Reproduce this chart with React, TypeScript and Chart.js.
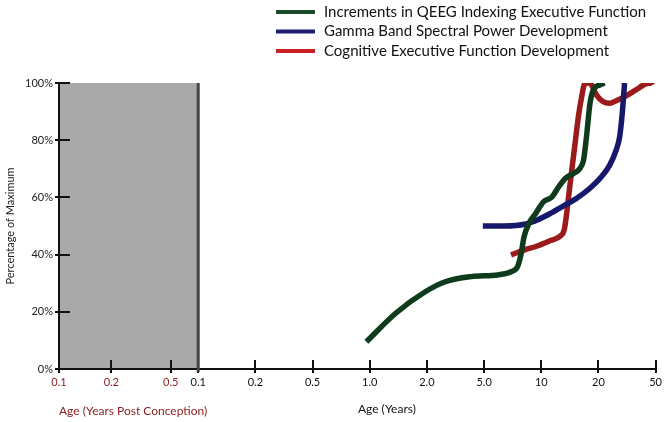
import React, { useEffect, useRef } from 'react';
import { Chart, registerables } from 'chart.js';

Chart.register(...registerables);

// Axis tick labels
const PRENATAL_LABELS = ['0.1', '0.2', '0.5'];
const POSTNATAL_AGES = [0.1, 0.2, 0.5, 1, 2, 5, 10, 20, 50];
const POSTNATAL_LABELS = ['0.1', '0.2', '0.5', '1.0', '2.0', '5.0', '10', '20', '50'];
const Y_MAX = 100;
const Y_STEP = 20;

// Series
const SERIES_NAMES = [
  'Increments in QEEG Indexing Executive Function',
  'Gamma Band Spectral Power Development',
  'Cognitive Executive Function Development',
];

// Age in years, value in % of maximum
const QEEG_AGES = [0.96, 1.37, 1.96, 2.68, 4.08, 5.9, 6.93, 7.5, 7.81, 8.12, 8.62, 9.34, 10.3, 11.4, 12.35, 13.4, 14.8, 16.0, 16.7, 17.3, 18.05, 18.8, 20.4, 22.1];
const QEEG_VALUES = [9.5, 19.5, 27.0, 30.5, 32.3, 32.9, 34.0, 35.8, 39.9, 46.3, 50.9, 54.4, 58.5, 60.2, 63.7, 66.7, 68.4, 70.2, 73.1, 81.2, 92.9, 97.6, 99.3, 100];

const GAMMA_AGES = [4.9, 6.39, 8.29, 9.53, 11.18, 13.1, 15.37, 18.04, 20.98, 23.96, 26.6, 28.1, 29.3, 29.9, 30.4];
const GAMMA_VALUES = [50.0, 50.0, 50.7, 52.1, 54.4, 57.0, 59.7, 63.2, 67.2, 71.3, 76.6, 81.2, 89.4, 95.2, 100];

const COGNITIVE_AGES = [6.93, 8.12, 9.53, 11.18, 12.6, 13.2, 13.54, 13.92, 14.48, 15.07, 15.68, 16.32, 17.0, 17.68, 18.4, 19.53, 21.54, 23.96, 26.6, 31.2, 36.5, 42.7, 47.5, 48.2];
const COGNITIVE_VALUES = [39.9, 41.6, 43.0, 44.9, 46.5, 48.6, 53.3, 60.2, 69.6, 78.9, 88.2, 95.2, 99.9, 100, 99.3, 95.8, 93.5, 92.9, 93.8, 95.5, 97.6, 99.7, 100, 99.5];

// Styling
const LINE_COLORS = ['#0f3b1d', '#16186b', '#9b1a1a'];
const LEGEND_COLORS = ['#1a4a2a', '#1b1c70', '#c81f1f'];
const PRENATAL_COLOR = '#8b1a1a';
const FONT = 'Lato';
// axis positions of the prenatal ticks (birth is at 0, postnatal ticks at 0..8)
const PRENATAL_POS = [-2.435, -1.52, -0.48];

function ageToPos(age: number): number {
  const a = POSTNATAL_AGES;
  for (let i = 0; i < a.length - 1; i++) {
    if (age <= a[i + 1] || i === a.length - 2) {
      return i + Math.log(age / a[i]) / Math.log(a[i + 1] / a[i]);
    }
  }
  return 0;
}

function toPoints(ages: number[], values: number[]) {
  return ages.map((a, i) => ({ x: ageToPos(a), y: values[i] }));
}

const TICK_POS = [...PRENATAL_POS, ...POSTNATAL_AGES.map((_, i) => i)];
const TICK_LABELS = [...PRENATAL_LABELS, ...POSTNATAL_LABELS];

const decor = {
  id: 'decor',
  beforeDatasetsDraw(chart: any) {
    const { ctx, chartArea: a, scales } = chart;
    const x = scales.x;
    const y = scales.y;
    const xb = x.getPixelForValue(0);
    ctx.save();
    ctx.fillStyle = '#a9a9a9';
    ctx.fillRect(a.left, a.top, xb - a.left, a.bottom - a.top);
    ctx.strokeStyle = '#111';
    ctx.lineWidth = 2;
    ctx.beginPath();
    for (const v of TICK_POS) {
      const px = Math.round(x.getPixelForValue(v));
      ctx.moveTo(px, a.bottom - 9);
      ctx.lineTo(px, a.bottom + 4);
    }
    for (let v = 0; v <= Y_MAX; v += Y_STEP) {
      const py = Math.round(y.getPixelForValue(v));
      ctx.moveTo(a.left - 4, py);
      ctx.lineTo(a.left + 11, py);
    }
    ctx.stroke();
    ctx.beginPath();
    ctx.moveTo(a.left, a.top);
    ctx.lineTo(a.left, a.bottom);
    ctx.lineTo(a.right, a.bottom);
    ctx.stroke();
    ctx.strokeStyle = '#454545';
    ctx.lineWidth = 3;
    ctx.beginPath();
    ctx.moveTo(xb, a.top);
    ctx.lineTo(xb, a.bottom + 3);
    ctx.stroke();
    ctx.restore();
  },
  afterDraw(chart: any) {
    const { ctx, chartArea: a, scales } = chart;
    const x = scales.x;
    ctx.save();
    // legend
    const rows = [12, 31.5, 51];
    chart.data.datasets.forEach((ds: any, i: number) => {
      ctx.strokeStyle = LEGEND_COLORS[i];
      ctx.lineWidth = 4;
      ctx.beginPath();
      ctx.moveTo(276, rows[i]);
      ctx.lineTo(315, rows[i]);
      ctx.stroke();
      ctx.fillStyle = '#111';
      ctx.font = `15px ${FONT}`;
      ctx.textBaseline = 'middle';
      ctx.textAlign = 'left';
      ctx.fillText(ds.label, 324, rows[i]);
    });
    // x axis titles
    ctx.font = `12px ${FONT}`;
    ctx.textBaseline = 'middle';
    ctx.fillStyle = PRENATAL_COLOR;
    ctx.textAlign = 'left';
    ctx.fillText('Age (Years Post Conception)', a.left, 411);
    ctx.fillStyle = '#111';
    ctx.textAlign = 'center';
    ctx.fillText('Age (Years)', x.getPixelForValue(3.3), 409);
    ctx.restore();
  },
};

export default function App() {
  const ref = useRef<HTMLCanvasElement>(null);
  useEffect(() => {
    document.body.style.margin = '0';
    const series = [
      toPoints(QEEG_AGES, QEEG_VALUES),
      toPoints(GAMMA_AGES, GAMMA_VALUES),
      toPoints(COGNITIVE_AGES, COGNITIVE_VALUES),
    ];
    const chart = new Chart(ref.current!, {
      type: 'line',
      data: {
        datasets: SERIES_NAMES.map((name, i) => ({
          label: name,
          data: series[i],
          borderColor: LINE_COLORS[i],
          backgroundColor: LINE_COLORS[i],
          borderWidth: 5.5,
          pointRadius: 0,
          cubicInterpolationMode: 'monotone' as const,
          borderCapStyle: 'butt' as const,
          fill: false,
        })),
      },
      options: {
        responsive: false,
        animation: false,
        layout: { padding: { top: 83, right: 6, left: 0, bottom: 0 } },
        plugins: {
          legend: { display: false },
          tooltip: { enabled: false },
        },
        scales: {
          x: {
            type: 'linear',
            min: PRENATAL_POS[0],
            max: POSTNATAL_AGES.length - 1,
            grid: { display: false, drawTicks: false },
            border: { display: false },
            afterBuildTicks: (s: any) => {
              s.ticks = TICK_POS.map((v) => ({ value: v }));
            },
            afterFit: (s: any) => {
              s.height = 53;
            },
            ticks: {
              autoSkip: false,
              maxRotation: 0,
              padding: 7,
              font: { family: FONT, size: 11 },
              color: (c: any) => (c.index < PRENATAL_LABELS.length ? PRENATAL_COLOR : '#111'),
              callback: (_v: any, i: number) => TICK_LABELS[i],
            },
          },
          y: {
            min: 0,
            max: Y_MAX,
            grid: { display: false, drawTicks: false },
            border: { display: false },
            afterFit: (s: any) => {
              s.width = 59;
            },
            ticks: {
              stepSize: Y_STEP,
              padding: 6,
              font: { family: FONT, size: 11 },
              color: '#222',
              callback: (v: any) => `${v}%`,
            },
            title: {
              display: true,
              text: 'Percentage of Maximum',
              font: { family: FONT, size: 11 },
              color: '#222',
              padding: { top: 4, bottom: 0 },
            },
          },
        },
      },
      plugins: [decor],
    });
    return () => chart.destroy();
  }, []);
  return (
    <div style={{ width: 669, height: 422 }}>
      <canvas ref={ref} width={669} height={422} style={{ display: 'block' }} />
    </div>
  );
}
